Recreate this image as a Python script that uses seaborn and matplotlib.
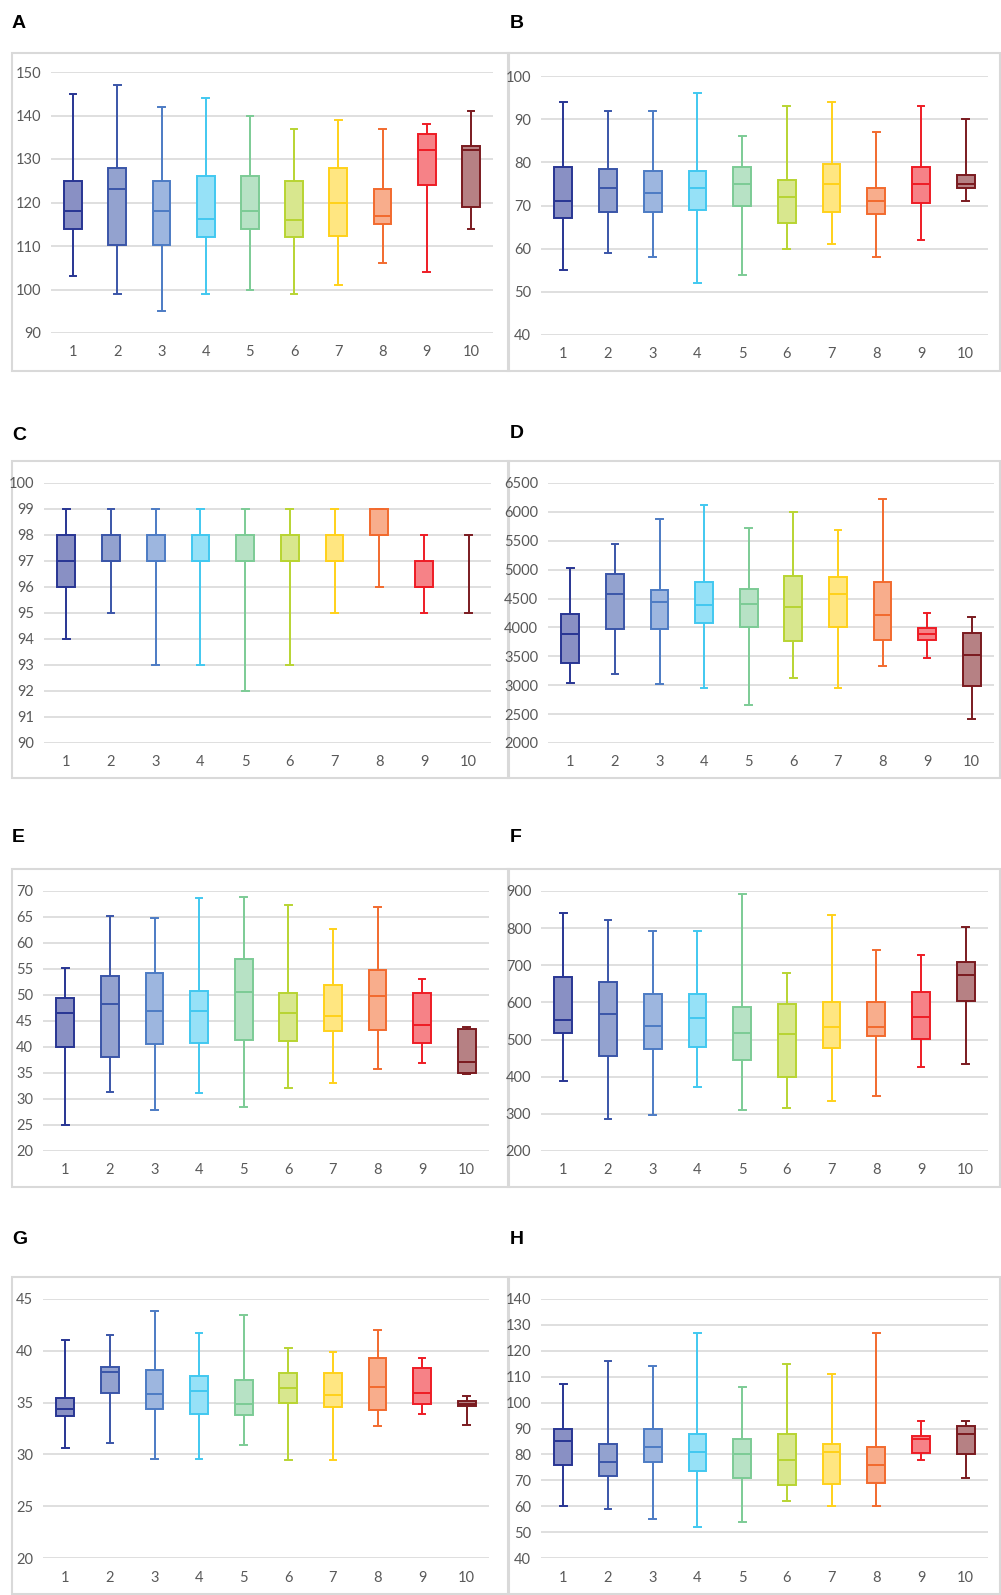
import numpy as np
import pandas as pd
import matplotlib.pyplot as plt
import seaborn as sns
from matplotlib.colors import to_rgb
from matplotlib.patches import Rectangle

# groups on the x axis
GROUPS = [str(i) for i in range(1, 11)]

# edge colour per group (fill is the same colour faded toward white)
LINE_COLORS = ["#283593", "#3A55A8", "#4C7BC4", "#41C8F0", "#7CCB95",
               "#B8D432", "#FFD11A", "#F26A2E", "#EE1C25", "#7A1A1F"]

# five-number summaries: min, Q1, median, Q3, max
A_MIN = [103, 99, 95, 99, 100, 99, 101, 106, 104, 114]
A_Q1 = [114, 110.3, 110.3, 112, 114, 112, 112.3, 115, 124, 119]
A_MED = [118, 123, 118, 116.3, 118, 116, 120, 117, 132, 132]
A_Q3 = [125, 128, 125, 126, 126, 125, 128, 123, 135.7, 133]
A_MAX = [145, 147, 142, 144, 140, 137, 139, 137, 138, 141]

B_MIN = [55, 59, 58, 52, 54, 60, 61, 58, 62, 71]
B_Q1 = [67, 68.5, 68.5, 69, 70, 66, 68.5, 68, 70.5, 74]
B_MED = [71, 74, 73, 74, 75, 72, 75, 71, 75, 75]
B_Q3 = [79, 78.5, 78, 78, 79, 76, 79.5, 74, 79, 77]
B_MAX = [94, 92, 92, 96, 86, 93, 94, 87, 93, 90]

C_MIN = [94, 95, 93, 93, 92, 93, 95, 96, 95, 95]
C_Q1 = [96, 97, 97, 97, 97, 97, 97, 98, 96, 98]
C_MED = [97, 97, 97, 97, 97, 97, 97, 98, 96, 98]
C_Q3 = [98, 98, 98, 98, 98, 98, 98, 99, 97, 98]
C_MAX = [99, 99, 99, 99, 99, 99, 99, 99, 98, 98]

D_MIN = [3047, 3192, 3018, 2955, 2660, 3128, 2955, 3331, 3475, 2417]
D_Q1 = [3389, 3978, 3978, 4077, 4001, 3759, 4001, 3782, 3782, 2995]
D_MED = [3880, 4574, 4435, 4389, 4401, 4360, 4586, 4221, 3880, 3527]
D_Q3 = [4233, 4921, 4655, 4782, 4667, 4898, 4881, 4782, 3990, 3897]
D_MAX = [5025, 5442, 5870, 6118, 5725, 6003, 5679, 6228, 4250, 4175]

E_MIN = [25, 31.4, 27.8, 31.1, 28.5, 32.2, 33.0, 35.7, 37.0, 34.8]
E_Q1 = [40.0, 38.1, 40.5, 40.8, 41.4, 41.1, 43.1, 43.2, 40.8, 35.0]
E_MED = [46.6, 48.3, 46.9, 46.9, 50.6, 46.6, 45.9, 49.8, 44.2, 37.1]
E_Q3 = [49.5, 53.6, 54.3, 50.7, 57.0, 50.3, 51.9, 54.8, 50.3, 43.4]
E_MAX = [55.1, 65.1, 64.8, 68.6, 68.9, 67.3, 62.7, 67.0, 53.1, 43.9]

F_MIN = [388, 285, 296, 373, 310, 316, 334, 347, 425, 434]
F_Q1 = [519, 457, 475, 481, 444, 399, 478, 510, 501, 604]
F_MED = [554, 570, 537, 557, 517, 515, 534, 534, 560, 675]
F_Q3 = [668, 655, 624, 624, 589, 595, 602, 600, 627, 710]
F_MAX = [842, 822, 792, 792, 891, 679, 836, 740, 729, 804]

G_MIN = [30.6, 31.1, 29.6, 29.6, 30.9, 29.5, 29.5, 32.7, 33.9, 32.8]
G_Q1 = [33.7, 35.9, 34.4, 33.9, 33.8, 35.0, 34.6, 34.3, 34.9, 34.7]
G_MED = [34.4, 38.0, 35.8, 36.1, 34.9, 36.4, 35.7, 36.5, 35.9, 34.9]
G_Q3 = [35.4, 38.4, 38.1, 37.6, 37.2, 37.9, 37.9, 39.3, 38.3, 35.2]
G_MAX = [41.0, 41.5, 43.8, 41.7, 43.5, 40.3, 39.9, 42.0, 39.3, 35.6]

H_MIN = [60, 59, 55, 52, 54, 62, 60, 60, 78, 71]
H_Q1 = [76, 71.5, 77, 73.4, 70.8, 68, 68.4, 69, 80.6, 80]
H_MED = [85, 77, 83, 81, 80, 78, 81, 76, 86, 88]
H_Q3 = [90, 84, 90, 88, 86, 88, 84, 83, 87, 91]
H_MAX = [107, 116, 114, 127, 106, 115, 111, 127, 93, 93]

# y tick values per panel
A_TICKS = list(range(90, 151, 10))
B_TICKS = list(range(40, 101, 10))
C_TICKS = list(range(90, 101, 1))
D_TICKS = list(range(2000, 6501, 500))
E_TICKS = list(range(20, 71, 5))
F_TICKS = list(range(200, 901, 100))
G_TICKS = list(range(20, 46, 5))
H_TICKS = list(range(40, 141, 10))

W, H = 1001, 1595
TICK_FONT = ["Liberation Sans Narrow", "Lato", "DejaVu Sans"]


def fade(color, alpha=0.55):
    r, g, b = to_rgb(color)
    return (1 - alpha + alpha * r, 1 - alpha + alpha * g, 1 - alpha + alpha * b)


def fig_rect(x0, y0, x1, y1):
    """pixel box (top-left origin) -> figure fraction [l, b, w, h]"""
    return [x0 / W, 1 - y1 / H, (x1 - x0) / W, (y1 - y0) / H]


def draw_panel(fig, letter, summary, ticks, frame, axbox, letter_xy):
    # grey frame round the chart
    l, b, w, h = fig_rect(*frame)
    fig.patches.append(Rectangle((l, b), w, h, transform=fig.transFigure,
                                 fill=False, edgecolor="#d9d9d9", linewidth=1.5,
                                 zorder=-1))
    fig.text(letter_xy[0] / W, 1 - letter_xy[1] / H, letter, fontsize=14,
             fontweight="bold", family="Liberation Sans", ha="left", va="center")

    ax = fig.add_axes(fig_rect(*axbox))
    mins, q1s, meds, q3s, maxs = summary
    # five points per group give exactly these quartiles; whis=(0, 100) puts whiskers at min/max
    df = pd.DataFrame({
        "group": np.repeat(GROUPS, 5),
        "value": np.column_stack([mins, q1s, meds, q3s, maxs]).ravel(),
    })
    for i, g in enumerate(GROUPS):
        sub = df[df["group"] == g]
        flat = q1s[i] == q3s[i]  # collapsed box is not drawn (as in Excel)
        sns.boxplot(data=sub, x="group", y="value", order=GROUPS, ax=ax,
                    color=fade(LINE_COLORS[i]), linecolor=LINE_COLORS[i],
                    linewidth=1.4, width=0.4, whis=(0, 100), saturation=1,
                    showfliers=False, capwidths=0.15,
                    boxprops={"linewidth": 0 if flat else 1.4},
                    medianprops={"linewidth": 0 if flat else 1.4})

    ax.set_ylim(ticks[0], ticks[-1])
    ax.set_yticks(ticks)
    ax.set_xlim(-0.5, 9.5)
    ax.set_xlabel("")
    ax.set_ylabel("")
    ax.yaxis.grid(True, color="#d9d9d9", linewidth=1.2)
    ax.set_axisbelow(True)
    for s in ax.spines.values():
        s.set_visible(False)
    ax.tick_params(axis="both", length=0, labelsize=10.5, labelcolor="#595959")
    ax.tick_params(axis="y", pad=7)
    ax.tick_params(axis="x", pad=9)
    for lab in ax.get_xticklabels() + ax.get_yticklabels():
        lab.set_family(TICK_FONT)
    ax.set_facecolor("none")
    return ax


fig = plt.figure(figsize=(W / 100, H / 100), dpi=100)
plt.rcParams["font.family"] = TICK_FONT

draw_panel(fig, "A", (A_MIN, A_Q1, A_MED, A_Q3, A_MAX), A_TICKS,
           (12, 53, 509, 371), (51, 72, 493, 333), (12, 24))
draw_panel(fig, "B", (B_MIN, B_Q1, B_MED, B_Q3, B_MAX), B_TICKS,
           (508, 53, 1000, 371), (541, 76, 988, 335), (510, 24))
draw_panel(fig, "C", (C_MIN, C_Q1, C_MED, C_Q3, C_MAX), C_TICKS,
           (12, 461, 509, 778), (44, 483, 491, 743), (12, 435))
draw_panel(fig, "D", (D_MIN, D_Q1, D_MED, D_Q3, D_MAX), D_TICKS,
           (508, 461, 1000, 778), (548, 483, 994, 743), (510, 434))
draw_panel(fig, "E", (E_MIN, E_Q1, E_MED, E_Q3, E_MAX), E_TICKS,
           (12, 869, 509, 1187), (43, 891, 489, 1151), (12, 837))
draw_panel(fig, "F", (F_MIN, F_Q1, F_MED, F_Q3, F_MAX), F_TICKS,
           (508, 869, 1000, 1187), (541, 891, 988, 1151), (510, 837))
draw_panel(fig, "G", (G_MIN, G_Q1, G_MED, G_Q3, G_MAX), G_TICKS,
           (12, 1277, 509, 1594), (43, 1299, 489, 1558), (12, 1240))
draw_panel(fig, "H", (H_MIN, H_Q1, H_MED, H_Q3, H_MAX), H_TICKS,
           (508, 1277, 1000, 1594), (541, 1299, 988, 1558), (510, 1240))

fig.savefig("out.png", dpi=100, facecolor="white")
